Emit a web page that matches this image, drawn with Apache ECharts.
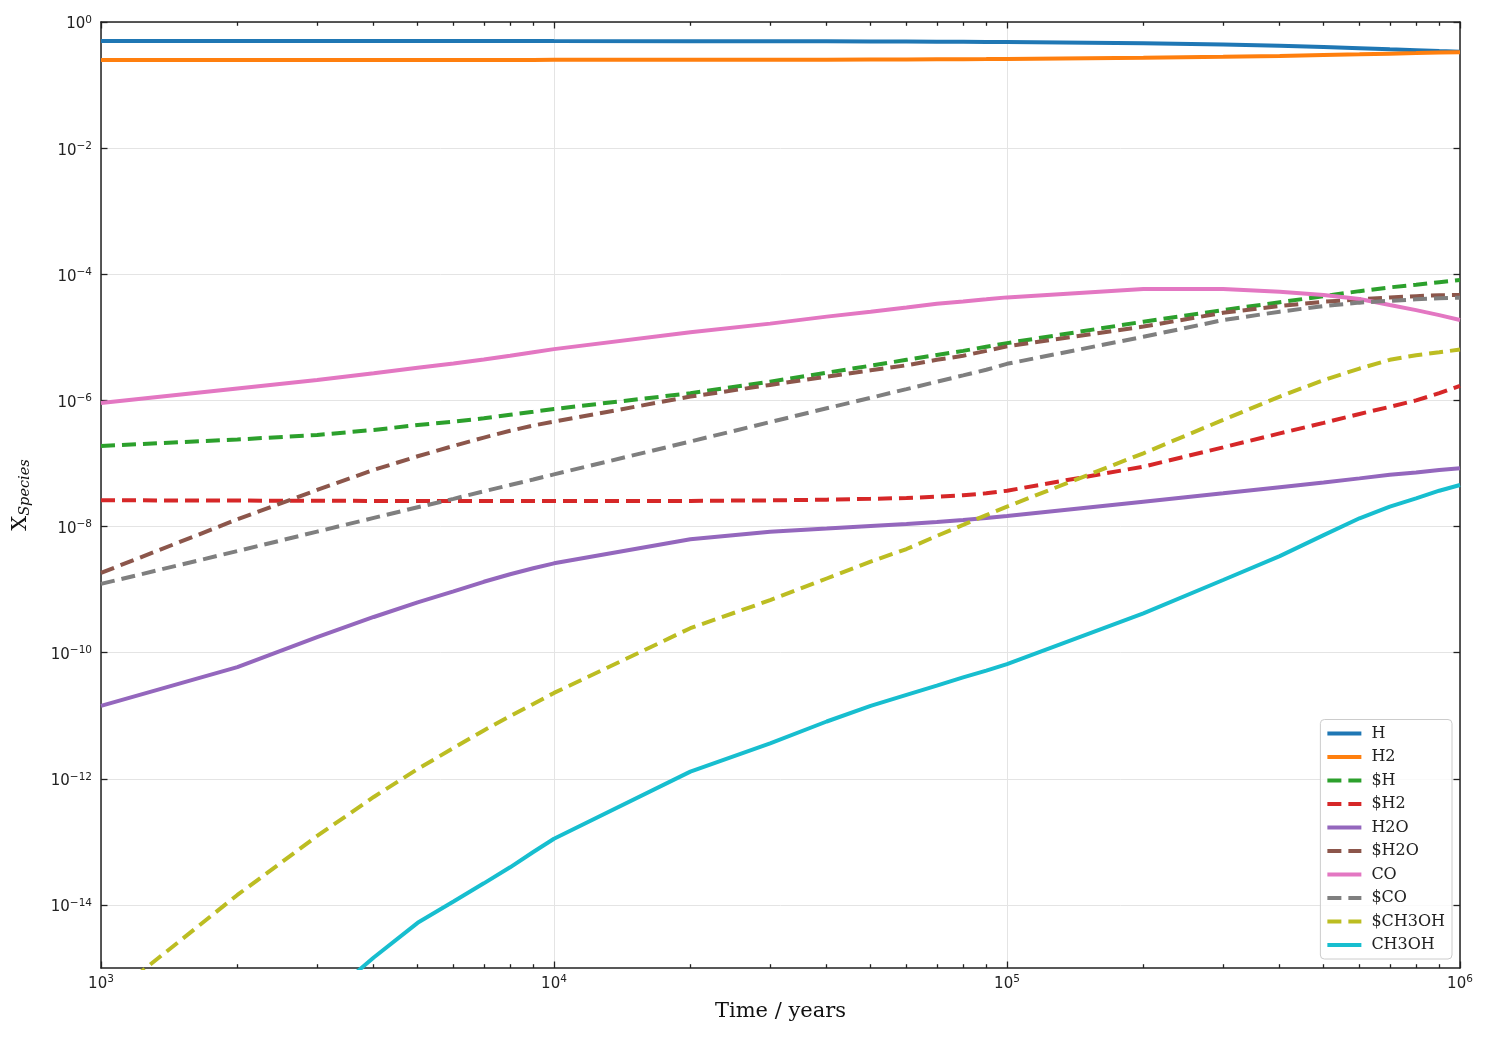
<!DOCTYPE html>
<html>
<head>
<meta charset="utf-8">
<title>Species abundances</title>
<script src="https://cdn.jsdelivr.net/npm/echarts@6.0.0/dist/echarts.min.js"></script>
<style>
html, body { margin: 0; padding: 0; background: #fff; }
#main { width: 1489px; height: 1039px; }
</style>
</head>
<body>
<div id="main"></div>
<script>
// time samples (years)
var time = [1e3, 2e3, 3e3, 4e3, 5e3, 6e3, 7e3, 8e3, 9e3,
            1e4, 2e4, 3e4, 4e4, 5e4, 6e4, 7e4, 8e4, 9e4,
            1e5, 2e5, 3e5, 4e5, 5e5, 6e5, 7e5, 8e5, 9e5, 1e6];

// fractional abundances ($ = ice species)
var H        = [0.500, 0.500, 0.500, 0.500, 0.500, 0.500, 0.499, 0.499, 0.499, 0.498, 0.497, 0.496, 0.494, 0.492, 0.490, 0.488, 0.486, 0.484, 0.482, 0.460, 0.440, 0.420, 0.400, 0.385, 0.370, 0.358, 0.346, 0.336];
var H2       = [0.250, 0.250, 0.250, 0.250, 0.250, 0.250, 0.250, 0.250, 0.250, 0.251, 0.2515, 0.252, 0.253, 0.254, 0.255, 0.256, 0.257, 0.258, 0.259, 0.270, 0.280, 0.290, 0.300, 0.307, 0.315, 0.321, 0.327, 0.332];
var iceH     = [1.9e-7, 2.4e-7, 2.83e-7, 3.4e-7, 4.07e-7, 4.6e-7, 5.2e-7, 5.9e-7, 6.6e-7, 7.3e-7, 1.3e-6, 1.98e-6, 2.75e-6, 3.55e-6, 4.4e-6, 5.25e-6, 6.1e-6, 7.1e-6, 8.1e-6, 1.77e-5, 2.7e-5, 3.6e-5, 4.5e-5, 5.4e-5, 6.2e-5, 6.8e-5, 7.5e-5, 8.1e-5];
var iceH2    = [2.61e-8, 2.58e-8, 2.56e-8, 2.55e-8, 2.54e-8, 2.54e-8, 2.53e-8, 2.53e-8, 2.53e-8, 2.53e-8, 2.55e-8, 2.6e-8, 2.67e-8, 2.75e-8, 2.84e-8, 2.97e-8, 3.13e-8, 3.36e-8, 3.7e-8, 8.9e-8, 1.8e-7, 3.0e-7, 4.4e-7, 6.1e-7, 7.9e-7, 1.0e-6, 1.3e-6, 1.7e-6];
var H2O      = [1.43e-11, 5.9e-11, 1.77e-10, 3.68e-10, 6.29e-10, 9.4e-10, 1.33e-9, 1.75e-9, 2.18e-9, 2.61e-9, 6.3e-9, 8.3e-9, 9.3e-9, 1.02e-8, 1.1e-8, 1.18e-8, 1.27e-8, 1.37e-8, 1.47e-8, 2.48e-8, 3.36e-8, 4.2e-8, 5.0e-8, 5.8e-8, 6.6e-8, 7.2e-8, 7.9e-8, 8.4e-8];
var iceH2O   = [1.84e-9, 1.3e-8, 3.8e-8, 7.9e-8, 1.3e-7, 1.9e-7, 2.57e-7, 3.3e-7, 4.0e-7, 4.6e-7, 1.15e-6, 1.76e-6, 2.38e-6, 3.0e-6, 3.6e-6, 4.4e-6, 5.1e-6, 6.1e-6, 7.2e-6, 1.48e-5, 2.45e-5, 3.14e-5, 3.67e-5, 4.0e-5, 4.3e-5, 4.5e-5, 4.65e-5, 4.7e-5];
var CO       = [9.1e-7, 1.55e-6, 2.1e-6, 2.7e-6, 3.3e-6, 3.85e-6, 4.45e-6, 5.1e-6, 5.8e-6, 6.5e-6, 1.2e-5, 1.65e-5, 2.13e-5, 2.55e-5, 2.97e-5, 3.4e-5, 3.7e-5, 4.0e-5, 4.3e-5, 5.85e-5, 5.85e-5, 5.3e-5, 4.7e-5, 4.05e-5, 3.25e-5, 2.7e-5, 2.25e-5, 1.88e-5];
var iceCO    = [1.23e-9, 4.08e-9, 8.3e-9, 1.37e-8, 2.02e-8, 2.75e-8, 3.62e-8, 4.56e-8, 5.57e-8, 6.71e-8, 2.23e-7, 4.53e-7, 7.5e-7, 1.1e-6, 1.51e-6, 1.98e-6, 2.49e-6, 3.06e-6, 3.8e-6, 1.02e-5, 1.88e-5, 2.55e-5, 3.14e-5, 3.55e-5, 3.8e-5, 4.0e-5, 4.17e-5, 4.26e-5];
var iceCH3OH = [2.7e-16, 1.44e-14, 1.24e-13, 5.15e-13, 1.43e-12, 3.08e-12, 5.85e-12, 9.85e-12, 1.54e-11, 2.3e-11, 2.44e-10, 6.8e-10, 1.5e-9, 2.77e-9, 4.4e-9, 7.1e-9, 1.06e-8, 1.52e-8, 2.07e-8, 1.45e-7, 4.9e-7, 1.15e-6, 2.1e-6, 3.2e-6, 4.4e-6, 5.2e-6, 5.8e-6, 6.4e-6];
var CH3OH    = [2e-19, 1.5e-17, 2.5e-16, 1.47e-15, 5.2e-15, 1.13e-14, 2.2e-14, 3.95e-14, 6.9e-14, 1.12e-13, 1.3e-12, 3.66e-12, 8.1e-12, 1.43e-11, 2.14e-11, 3.0e-11, 4.05e-11, 5.2e-11, 6.6e-11, 4.2e-10, 1.42e-9, 3.4e-9, 7.3e-9, 1.35e-8, 2.07e-8, 2.8e-8, 3.7e-8, 4.55e-8];

// ticks
var xMajor = [1e3, 1e4, 1e5, 1e6];
var xMinor = [2e3, 3e3, 4e3, 5e3, 6e3, 7e3, 8e3, 9e3,
              2e4, 3e4, 4e4, 5e4, 6e4, 7e4, 8e4, 9e4,
              2e5, 3e5, 4e5, 5e5, 6e5, 7e5, 8e5, 9e5];
var yMajor = [1, 1e-2, 1e-4, 1e-6, 1e-8, 1e-10, 1e-12, 1e-14];

var frameColor = '#222';

function pairs(vals) {
    return time.map(function (t, i) { return [t, vals[i]]; });
}

function line(name, vals, color, dashed) {
    return {
        name: name,
        type: 'line',
        data: pairs(vals),
        symbol: 'none',
        showSymbol: false,
        color: color,
        lineStyle: { color: color, width: 4, type: dashed ? [14, 7] : 'solid' },
        emphasis: { disabled: true },
        xAxisIndex: 0,
        yAxisIndex: 0
    };
}

function powLabel(v) {
    var e = Math.round(Math.log10(v));
    return '{b|10}{s|' + (e < 0 ? '\u2212' + (-e) : e) + '}';
}

var powRich = {
    b: { fontFamily: 'DejaVu Sans', fontSize: 15, color: '#222' },
    s: { fontFamily: 'DejaVu Sans', fontSize: 10.5, color: '#222', padding: [0, 0, 9, 0] }
};

function tickAxis(pos, values, len, extra) {
    var ax = {
        type: 'log',
        logBase: 10,
        position: pos,
        axisLine: { show: false, onZero: false },
        axisTick: { show: true, inside: true, length: len, customValues: values,
                    lineStyle: { color: frameColor, width: 1.3 } },
        axisLabel: { show: false },
        splitLine: { show: false }
    };
    for (var k in extra) ax[k] = extra[k];
    return ax;
}

var xRange = { min: 1e3, max: 1e6 };
var yRange = { min: 1e-15, max: 1 };

var myChart = echarts.init(document.getElementById('main'));

var option = {
    animation: false,
    backgroundColor: '#fff',
    grid: { left: 101, right: 29, top: 22, bottom: 71, containLabel: false },
    legend: {
        orient: 'vertical',
        right: 37,
        bottom: 80,
        itemWidth: 34,
        itemHeight: 14,
        itemGap: 7.5,
        padding: [6, 7, 6, 5],
        backgroundColor: 'rgba(255,255,255,0.8)',
        borderColor: '#cccccc',
        borderWidth: 1,
        borderRadius: 4,
        selectedMode: false,
        itemStyle: { opacity: 0 },
        lineStyle: { width: 4 },
        textStyle: { fontFamily: 'DejaVu Serif', fontSize: 16, color: '#222', lineHeight: 16, padding: [0, 0, 0, 5] },
        data: ['H', 'H2', '$H', '$H2', 'H2O', '$H2O', 'CO', '$CO', '$CH3OH', 'CH3OH']
    },
    xAxis: [
        {
            type: 'log',
            logBase: 10,
            position: 'bottom',
            min: xRange.min,
            max: xRange.max,
            name: 'Time / years',
            nameLocation: 'middle',
            nameGap: 33,
            nameTextStyle: { fontFamily: 'DejaVu Serif', fontSize: 21, color: '#111' },
            axisLine: { show: true, onZero: false, lineStyle: { color: frameColor, width: 1.5 } },
            axisTick: { show: true, inside: true, length: 6.5, customValues: xMajor,
                        lineStyle: { color: frameColor, width: 1.3 } },
            axisLabel: { customValues: xMajor, margin: 6, formatter: powLabel, rich: powRich },
            splitLine: { show: true, lineStyle: { color: '#e4e4e4', width: 1 } }
        },
        tickAxis('bottom', xMinor, 3.8, xRange),
        tickAxis('top', xMajor, 6.5, {
            min: xRange.min, max: xRange.max,
            axisLine: { show: true, onZero: false, lineStyle: { color: frameColor, width: 1.5 } }
        }),
        tickAxis('top', xMinor, 3.8, xRange)
    ],
    yAxis: [
        {
            type: 'log',
            logBase: 10,
            position: 'left',
            min: yRange.min,
            max: yRange.max,
            name: '{x|X}{s|Species}',
            nameLocation: 'middle',
            nameGap: 68,
            nameTextStyle: {
                rich: {
                    x: { fontFamily: 'DejaVu Serif', fontSize: 21, color: '#111' },
                    s: { fontFamily: 'DejaVu Serif', fontSize: 14.5, fontStyle: 'italic', color: '#111', padding: [9, 0, 0, 0] }
                }
            },
            axisLine: { show: true, onZero: false, lineStyle: { color: frameColor, width: 1.5 } },
            axisTick: { show: true, inside: true, length: 6.5, customValues: yMajor,
                        lineStyle: { color: frameColor, width: 1.3 } },
            axisLabel: { customValues: yMajor, margin: 9, padding: [5, 0, 0, 0],
                         formatter: powLabel, rich: powRich },
            splitLine: { show: true, lineStyle: { color: '#e4e4e4', width: 1 } }
        },
        tickAxis('right', yMajor, 6.5, {
            min: yRange.min, max: yRange.max,
            axisLine: { show: true, onZero: false, lineStyle: { color: frameColor, width: 1.5 } }
        })
    ],
    series: [
        line('H', H, '#1f77b4', false),
        line('H2', H2, '#ff7f0e', false),
        line('$H', iceH, '#2ca02c', true),
        line('$H2', iceH2, '#d62728', true),
        line('H2O', H2O, '#9467bd', false),
        line('$H2O', iceH2O, '#8c564b', true),
        line('CO', CO, '#e377c2', false),
        line('$CO', iceCO, '#7f7f7f', true),
        line('$CH3OH', iceCH3OH, '#bcbd22', true),
        line('CH3OH', CH3OH, '#17becf', false)
    ]
};

myChart.setOption(option);
</script>
</body>
</html>
